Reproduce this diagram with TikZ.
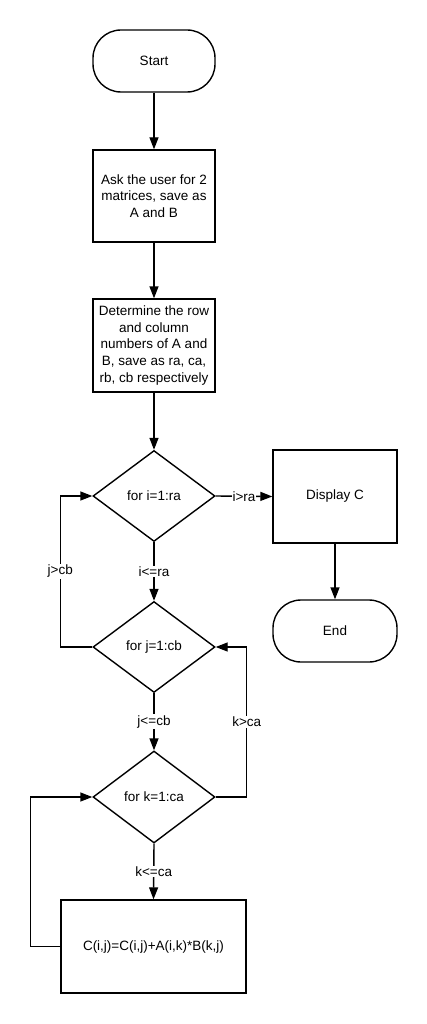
\documentclass[tikz,border=0pt]{standalone}
\usepackage{fontspec}
\setmainfont{Liberation Sans}
\usetikzlibrary{shapes.geometric,arrows.meta}
\begin{document}
\begin{tikzpicture}[x=1pt,y=-1pt,
  every node/.style={font=\fontsize{13.5}{16.7}\selectfont},
  ln/.style={line width=1.4pt},
  arr/.style={ln,-{Triangle[length=12pt,width=9pt]}},
  term/.style={draw,ln,rounded corners=28pt,minimum width=122pt,minimum height=62pt,inner sep=0pt},
  proc/.style={draw,ln,minimum width=122pt,minimum height=92pt,inner sep=0pt,align=center},
  dec/.style={draw,ln,diamond,minimum width=122pt,minimum height=91pt,inner sep=0pt},
  lbl/.style={fill=white,inner sep=1pt}]
\useasboundingbox (0,0) rectangle (427,1024);
\fill[white] (0,0) rectangle (427,1024);
\node[term] (start) at (154,61) {Start};
\node[proc] (ask) at (154,196) {Ask the user for 2\\matrices, save as\\A and B};
\node[proc,minimum height=93pt] (det) at (154,345.5) {Determine the row\\and column\\numbers of A and\\B, save as ra, ca,\\rb, cb respectively};
\node[dec] (di) at (154,496) {for i=1:ra};
\node[dec] (dj) at (154,647) {for j=1:cb};
\node[dec,minimum height=92pt] (dk) at (154,797) {for k=1:ca};
\node[proc,minimum width=185pt,minimum height=93pt] (calc) at (153.5,946.5) {C(i,j)=C(i,j)+A(i,k)*B(k,j)};
\node[proc,minimum width=124pt,minimum height=93pt] (disp) at (335,496.5) {Display C};
\node[term,minimum width=124pt] (end) at (335,631) {End};

\draw[arr] (start) -- (ask);
\draw[arr] (ask) -- (det);
\draw[arr] (det) -- (di);
\draw[arr] (di.east) -- node[lbl]{i>ra} (disp.west);
\draw[arr] (disp) -- (end);
\draw[arr] (di.south) -- node[lbl]{i<=ra} (dj.north);
\draw[arr] (dj.south) -- node[lbl]{j<=cb} (dk.north);
\draw[arr] (dk.south) -- node[lbl]{k<=ca} (calc.north);
\draw[arr] (dj.west) -- ++(-32,0) |- node[lbl,pos=0.25]{j>cb} (di.west);
\draw[arr] (dk.east) -- ++(31,0) |- node[lbl,pos=0.25]{k>ca} (dj.east);
\draw[arr] (calc.west) -- ++(-30,0) |- (dk.west);
\end{tikzpicture}
\end{document}
